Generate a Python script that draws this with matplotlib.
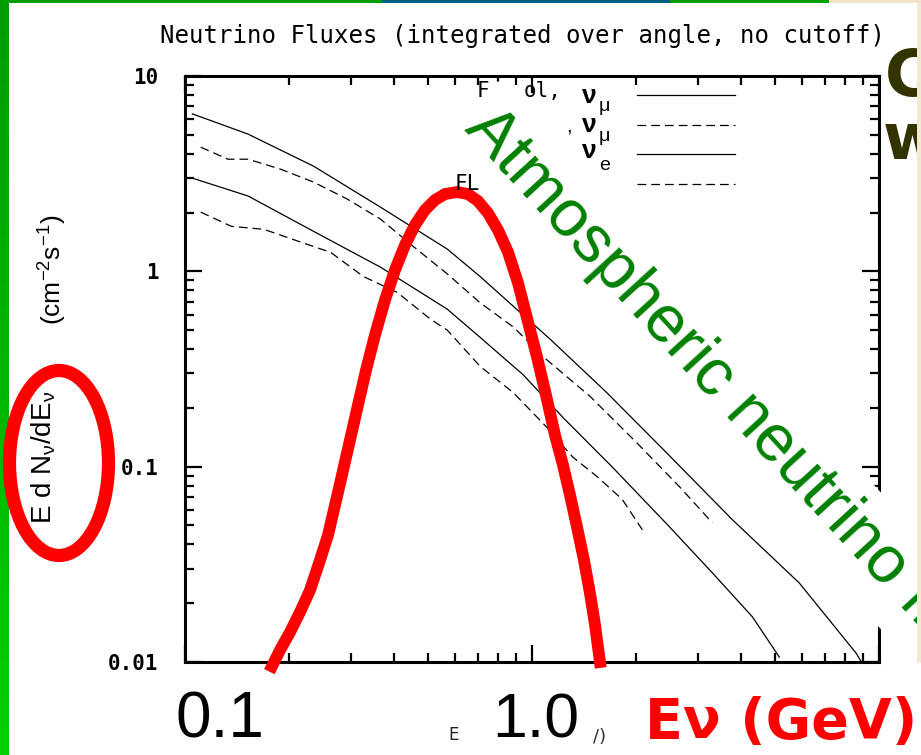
import numpy as np
import matplotlib
matplotlib.use('Agg')
import matplotlib.pyplot as plt
from matplotlib.patches import Ellipse, Rectangle
from matplotlib.colors import LinearSegmentedColormap
from matplotlib.ticker import NullFormatter

W, H = 921, 755

# flux curves (E in GeV, E dN/dE in cm^-2 s^-1)
e_numu_solid = [0.105, 0.152, 0.235, 0.366, 0.570, 0.709, 1.13, 1.64, 2.44, 3.78, 5.89, 8.59, 8.9]
f_numu_solid = [6.4, 5.04, 3.45, 2.13, 1.30, 0.94, 0.448, 0.240, 0.118, 0.0535, 0.0254, 0.0111, 0.0100]

e_numu_dash = [0.111, 0.133, 0.152, 0.189, 0.235, 0.294, 0.366, 0.455, 0.570, 0.709, 0.882, 1.10, 1.47, 2.00, 2.66, 3.31]
f_numu_dash = [4.32, 3.75, 3.75, 3.33, 2.86, 2.34, 1.85, 1.34, 0.97, 0.69, 0.52, 0.354, 0.229, 0.133, 0.079, 0.0516]

e_nue_solid = [0.105, 0.152, 0.235, 0.366, 0.570, 0.709, 0.942, 1.23, 1.71, 2.49, 3.31, 4.32, 5.16]
f_nue_solid = [3.0, 2.43, 1.60, 1.05, 0.64, 0.459, 0.296, 0.178, 0.0989, 0.0492, 0.0286, 0.0170, 0.0106]

e_nue_dash = [0.111, 0.136, 0.169, 0.211, 0.263, 0.327, 0.409, 0.509, 0.570, 0.709, 0.882, 1.10, 1.31, 1.54, 1.82, 2.08]
f_nue_dash = [2.01, 1.70, 1.64, 1.43, 1.25, 0.94, 0.78, 0.57, 0.50, 0.326, 0.240, 0.160, 0.112, 0.089, 0.068, 0.0475]

# hand drawn red spectrum
e_red = [0.1781, 0.1878, 0.2007, 0.2145, 0.2292, 0.2449, 0.2583, 0.2706, 0.2834, 0.2989,
         0.3152, 0.3324, 0.3528, 0.3770, 0.4029, 0.4305, 0.4600, 0.4915, 0.5253, 0.5613,
         0.6078, 0.6537, 0.6986, 0.7465, 0.7980, 0.8526, 0.9114, 0.9674, 1.034, 1.097,
         1.165, 1.228, 1.287, 1.348, 1.412, 1.469, 1.519, 1.570]
f_red = [0.0095, 0.0115, 0.0142, 0.0180, 0.0233, 0.0332, 0.0446, 0.0636, 0.0906, 0.137,
         0.207, 0.312, 0.472, 0.713, 1.016, 1.364, 1.726, 2.060, 2.318, 2.488,
         2.547, 2.488, 2.291, 1.989, 1.627, 1.256, 0.871, 0.577, 0.364, 0.233,
         0.145, 0.102, 0.0715, 0.0491, 0.0332, 0.0225, 0.0155, 0.0100]

y_ticks = [0.01, 0.1, 1, 10]
y_tick_labels = ['0.01', '0.1', '1', '10']


def fx(x):
    return x / W


def fy(y):
    return 1 - y / H


plt.rcParams['font.family'] = ['DejaVu Sans']
plt.rcParams['mathtext.default'] = 'regular'

fig = plt.figure(figsize=(W / 100, H / 100), dpi=100)
fig.patch.set_facecolor('white')

ax = fig.add_axes([fx(185), fy(662), 694 / W, 586 / H])
ax.set_xscale('log')
ax.set_yscale('log')
ax.set_xlim(0.1, 10)
ax.set_ylim(0.01, 10)

thin = dict(color='black', lw=0.9)
dash = (0, (7, 4))
ax.plot(e_numu_solid, f_numu_solid, **thin)
ax.plot(e_numu_dash, f_numu_dash, ls=dash, **thin)
ax.plot(e_nue_solid, f_nue_solid, **thin)
ax.plot(e_nue_dash, f_nue_dash, ls=dash, **thin)
ax.plot(e_red, f_red, color='#ff0000', lw=8.5, solid_joinstyle='round', clip_on=False, zorder=3)

# legend marks (the labels are partly hidden by the overlay)
for yp, ls in [(95, '-'), (125, dash), (154, '-'), (184, dash)]:
    ax.plot([0.651, 0.793], [1 - (yp - 76) / 586] * 2, transform=ax.transAxes, ls=ls, **thin)

for s in ax.spines.values():
    s.set_linewidth(2.2)
ax.tick_params(which='both', direction='in', top=True, right=True, labelbottom=False)
ax.tick_params(which='major', length=12, width=1.6)
ax.tick_params(which='minor', length=6.5, width=1.6)
ax.set_yticks(y_ticks)
ax.set_yticklabels(y_tick_labels, fontsize=15, fontweight='bold', family='DejaVu Sans Mono')
ax.yaxis.set_minor_formatter(NullFormatter())
ax.xaxis.set_minor_formatter(NullFormatter())
ax.tick_params(axis='y', which='major', pad=19)

fig.text(fx(522), fy(43), 'Neutrino Fluxes (integrated over angle, no cutoff)',
         ha='center', va='baseline', fontsize=17.3, family='DejaVu Sans Mono')

# y label pieces
fig.text(fx(51), fy(457), r'E d N$_{ν}$/dE$_{ν}$', rotation=90, rotation_mode='anchor',
         ha='center', va='baseline', fontsize=20, family='Liberation Sans')
fig.text(fx(62), fy(270), r'(cm$^{-2}$s$^{-1}$)', rotation=90, rotation_mode='anchor',
         ha='center', va='baseline', fontsize=19, family='Liberation Sans')

# visible legend fragments
leg = dict(color='black', va='baseline', ha='left', zorder=6)
fig.text(fx(477), fy(97), 'F', fontsize=15, family='DejaVu Sans Mono', **leg)
fig.text(fx(524), fy(97), 'ol,', fontsize=15, family='DejaVu Sans Mono', **leg)
fig.text(fx(566), fy(131), ',', fontsize=15, family='Liberation Sans', **leg)
fig.text(fx(455), fy(190), 'FL', fontsize=15, family='DejaVu Sans Mono', **leg)
for yb, sub, ysub in [(103, 'μ', 111), (132, 'μ', 141), (158, 'e', 170)]:
    fig.text(fx(582), fy(yb), 'ν', fontsize=19, fontweight='bold', family='Liberation Sans', **leg)
    fig.text(fx(599), fy(ysub), sub, fontsize=14, family='Liberation Sans', **leg)

# slide overlay: green rotated text on a white box
fig.text(fx(463), fy(130), 'Atmospheric neutrino flux', rotation=-47.5, rotation_mode='anchor',
         ha='left', va='baseline', fontsize=47.5, color='#008000', family='Liberation Sans',
         bbox=dict(boxstyle='round,pad=0.23', fc='white', ec='none'), zorder=4)

# red ellipse round the y label
fig.add_artist(Ellipse((fx(59), fy(463)), 99 / W, 185 / H, transform=fig.transFigure,
                       fill=False, ec='#ff0000', lw=9.5, zorder=7))

# bottom slide labels
fig.text(fx(175), fy(738), '0.1', fontsize=46, family='Liberation Sans', ha='left', va='baseline')
fig.text(fx(492), fy(738), '1.0', fontsize=45, family='Liberation Sans', ha='left', va='baseline')
fig.text(fx(448), fy(740), 'E', fontsize=12, color='#222222', ha='left', va='baseline')
fig.text(fx(593), fy(742), '/)', fontsize=13, color='#333333', ha='left', va='baseline')
fig.text(fx(645), fy(738), 'Eν (GeV)', fontsize=40, fontweight='bold', color='#ff0000',
         ha='left', va='baseline')

# cut-off slide title letters on the right
fig.text(fx(885), fy(96), 'C', fontsize=46, fontweight='bold', color='#333300', ha='left', va='baseline')
fig.text(fx(883), fy(159), 'w', fontsize=46, fontweight='bold', color='#333300', ha='left', va='baseline')

# slide frame: green bar at the left, coloured line at the top, tan strip at the right
bar = fig.add_axes([0, 0, 8 / W, 1])
grad = LinearSegmentedColormap.from_list('g', ['#009c00', '#00d000'])
bar.imshow(np.linspace(0, 1, 64).reshape(-1, 1), aspect='auto', cmap=grad)
bar.axis('off')
for x0, x1, c in [(8, 382, '#00a000'), (382, 670, '#00607f'), (670, 829, '#00a000'), (829, 921, '#efe3c8')]:
    fig.add_artist(Rectangle((fx(x0), fy(3)), (x1 - x0) / W, 3 / H, transform=fig.transFigure,
                             fc=c, ec='none', zorder=8))
fig.add_artist(Rectangle((fx(917), fy(663)), 4 / W, 660 / H, transform=fig.transFigure,
                         fc='#f3e8d2', ec='none', zorder=8))

fig.savefig('out.png', dpi=100)
